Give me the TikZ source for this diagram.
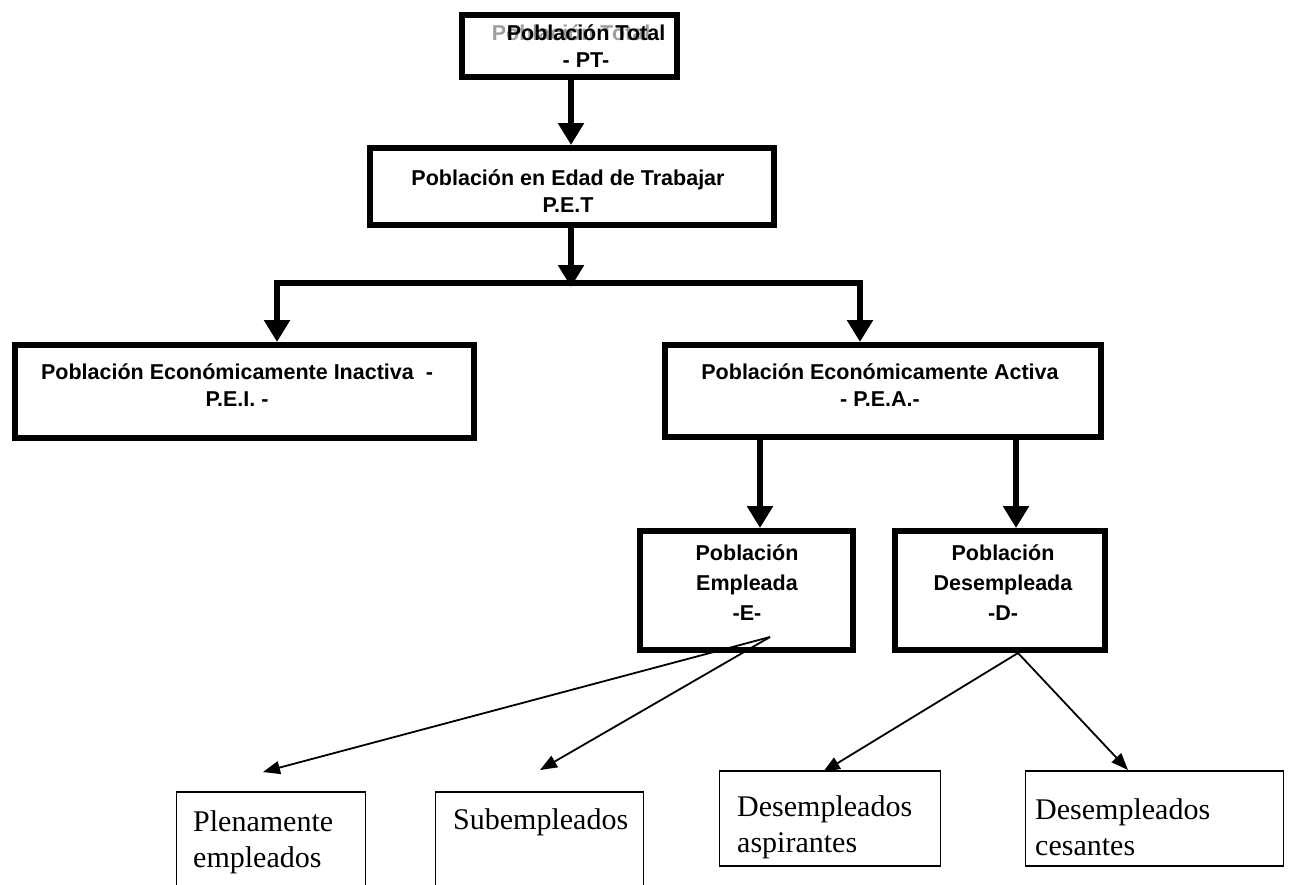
\documentclass[tikz,border=0pt]{standalone}
\usepackage{fontspec}
\setmainfont{Liberation Serif}
\newfontfamily\arialf{Liberation Sans}
\usetikzlibrary{arrows.meta}
\begin{document}
\begin{tikzpicture}[x=1pt,y=-1pt,
  thickbox/.style={draw, line width=6pt, rectangle, inner sep=0pt, fill=white},
  thinbox/.style={draw, line width=1.6pt, rectangle, inner sep=0pt},
  boldtxt/.style={font=\arialf\bfseries\fontsize{21.5}{27}\selectfont, align=center, inner sep=0pt},
  boldtxtw/.style={font=\arialf\bfseries\fontsize{21.5}{30}\selectfont, align=center, inner sep=0pt},
  serif/.style={font=\fontsize{30}{36}\selectfont, align=left, inner sep=0pt, anchor=west},
  thickarrow/.style={line width=6pt, -{Triangle[length=22pt,width=25pt]}},
  thinarrow/.style={line width=1.8pt, -{Triangle[length=17pt,width=13pt]}},
]
\fill[white] (0,0) rectangle (1289,884);
\clip (0,0) rectangle (1289,884);

% thick boxes
\node[thickbox, minimum width=215pt, minimum height=62pt] (pt) at (569.5,46) {};
\node[thickbox, minimum width=404pt, minimum height=77pt] (pet) at (572,186.5) {};
\node[thickbox, minimum width=459pt, minimum height=93pt] (pei) at (244.5,391.5) {};
\node[thickbox, minimum width=436pt, minimum height=92pt] (pea) at (883,391) {};
\node[thickbox, minimum width=213pt, minimum height=119pt] (e) at (746.5,590.5) {};
\node[thickbox, minimum width=210pt, minimum height=119pt] (d) at (1000,590.5) {};

% texts of thick boxes
\node[boldtxt, text=black!38] (ptg) at (571,46.5) {Población Total\\\phantom{- PT-}};
\node[boldtxt] (ptt) at (586,46.5) {Población Total\\- PT-};
\node[boldtxt] (pett) at (568,191) {Población en Edad de Trabajar\\P.E.T};
\node[boldtxt] (peit) at (237,385) {Población Económicamente Inactiva~~-\\P.E.I. -};
\node[boldtxt] (peat) at (880,385) {Población Económicamente Activa\\- P.E.A.-};
\node[boldtxtw] (et) at (747,583) {Población\\Empleada\\-E-};
\node[boldtxtw] (dt) at (1003,583) {Población\\Desempleada\\-D-};

% thin boxes
\node[thinbox, minimum width=189pt, minimum height=128pt] (pl) at (271,856) {};
\node[thinbox, minimum width=208pt, minimum height=128pt] (sub) at (539.5,856) {};
\node[thinbox, minimum width=221pt, minimum height=95pt] (asp) at (830,818.5) {};
\node[thinbox, minimum width=258pt, minimum height=95pt] (ces) at (1154.5,818.5) {};

\node[serif] (plt) at (193,842) {Plenamente\\empleados};
\node[serif] (subt) at (453,822) {Subempleados};
\node[serif] (aspt) at (737,827) {Desempleados\\aspirantes};
\node[serif] (cest) at (1035,827) {Desempleados\\cesantes};

% thick connectors
\coordinate (vx) at (571,0);
\coordinate (jt) at (571,287);
\coordinate (jl) at (277,283);
\coordinate (jr) at (860,283);
\coordinate (ex) at (760,0);
\coordinate (dx) at (1016,0);
\draw[thickarrow] (pt.south -| vx) -- (pet.north -| vx);
\draw[thickarrow] (pet.south -| vx) -- (jt);
\draw[line width=6pt, {Triangle[length=22pt,width=25pt]}-{Triangle[length=22pt,width=25pt]}]
  (jl |- pei.north) -- (jl) -- (jr) -- (jr |- pea.north);
\draw[thickarrow] (pea.south -| ex) -- (e.north -| ex);
\draw[thickarrow] (pea.south -| dx) -- (d.north -| dx);

% thin connectors
\coordinate (ea) at (770,637);
\coordinate (da) at (1018,653);
\coordinate (t1) at (263,772);
\coordinate (t2) at (540,770);
\coordinate (t3) at (823,772);
\coordinate (t4) at (1128,770);
\draw[thinarrow] (ea) -- (t1);
\draw[thinarrow] (ea) -- (t2);
\draw[thinarrow] (da) -- (t3);
\draw[thinarrow] (da) -- (t4);
\end{tikzpicture}
\end{document}
